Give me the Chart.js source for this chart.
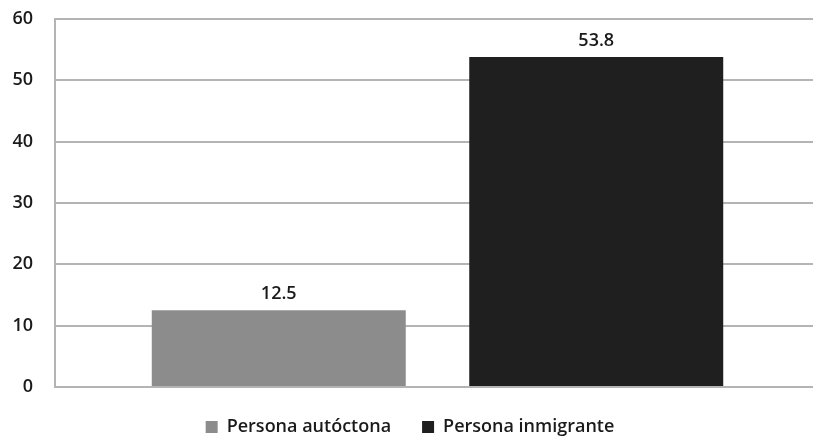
<!DOCTYPE html>
<html>
<head>
<meta charset="utf-8">
<script src="https://cdn.jsdelivr.net/npm/chart.js@4/dist/chart.umd.min.js"></script>
<style>
  html, body { margin: 0; padding: 0; background: #fff; overflow: hidden; }
  #wrap { width: 820px; height: 438px; }
</style>
</head>
<body>
<div id="wrap"><canvas id="myChart"></canvas></div>
<script>
// Values per group
const categories = [""];
const seriesNames = ["Persona autóctona", "Persona inmigrante"];
const autoctona = [12.5];
const inmigrante = [53.8];
const yTicks = [0, 10, 20, 30, 40, 50, 60];

const textColor = "#1a1a1a";
const gridColor = "#b4b4b4";
const fontFamily = "'Open Sans', sans-serif";

// Draws the value above each bar
const valueLabels = {
  id: "valueLabels",
  afterDatasetsDraw(chart) {
    const ctx = chart.ctx;
    ctx.save();
    ctx.font = "600 18px " + fontFamily;
    ctx.fillStyle = textColor;
    ctx.textAlign = "center";
    ctx.textBaseline = "alphabetic";
    chart.data.datasets.forEach((ds, i) => {
      chart.getDatasetMeta(i).data.forEach((bar, j) => {
        ctx.fillText(ds.data[j].toFixed(1), bar.x, bar.y - 11);
      });
    });
    ctx.restore();
  },
};

const canvas = document.getElementById("myChart").getContext("2d");

const myChart = new Chart(canvas, {
  type: "bar",
  data: {
    labels: categories,
    datasets: [
      {
        label: seriesNames[0],
        data: autoctona,
        backgroundColor: "#8c8c8c",
        borderWidth: 0,
        barPercentage: 0.8,
        categoryPercentage: 0.83,
      },
      {
        label: seriesNames[1],
        data: inmigrante,
        backgroundColor: "#1f1f1f",
        borderWidth: 0,
        barPercentage: 0.8,
        categoryPercentage: 0.83,
      },
    ],
  },
  options: {
    responsive: true,
    maintainAspectRatio: false,
    animation: false,
    layout: {
      padding: { top: 19, left: 0, right: 0, bottom: -8 },
    },
    plugins: {
      tooltip: { enabled: false },
      legend: {
        position: "bottom",
        labels: {
          color: textColor,
          font: { family: fontFamily, size: 18, weight: "600" },
          boxWidth: 12,
          boxHeight: 12,
          padding: 31,
        },
      },
    },
    scales: {
      x: {
        display: false,
        grid: { display: false },
      },
      y: {
        min: 0,
        max: 60,
        afterBuildTicks: (axis) => {
          axis.ticks = yTicks.map((v) => ({ value: v }));
        },
        afterFit: (axis) => {
          axis.width = 55;
          axis.paddingTop = 0;
          axis.paddingBottom = 0;
        },
        border: { display: true, color: gridColor, width: 2 },
        grid: { color: gridColor, lineWidth: 2, drawTicks: false },
        ticks: {
          color: textColor,
          padding: 22,
          font: { family: fontFamily, size: 18, weight: "600" },
        },
      },
    },
  },
  plugins: [valueLabels],
});
</script>
</body>
</html>
